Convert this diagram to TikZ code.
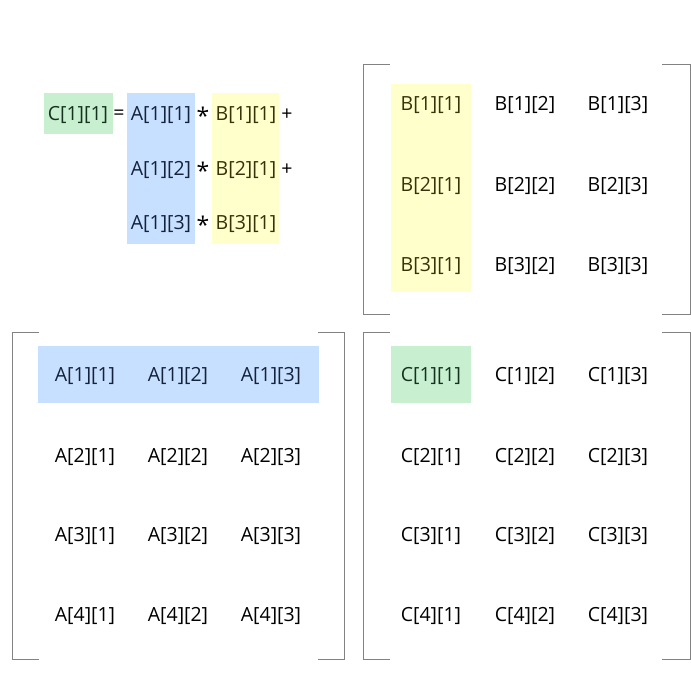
\documentclass[tikz,border=0pt]{standalone}
\usepackage{fontspec}
\setmainfont{Open Sans}
\definecolor{cellgreen}{RGB}{200,240,208}
\definecolor{cellblue}{RGB}{200,224,255}
\definecolor{cellyellow}{RGB}{255,255,204}
\definecolor{inkgreen}{RGB}{20,50,30}
\definecolor{inkblue}{RGB}{20,35,60}
\definecolor{inkyellow}{RGB}{55,50,10}
\definecolor{bracketgray}{RGB}{130,130,130}
\tikzset{
  entry/.style={inner sep=0pt, font=\fontsize{19.5}{22}\selectfont},
  times/.style={inner sep=0pt, font=\fontsize{23}{25}\selectfont},
  bracket/.style={draw=bracketgray, line width=1pt},
}

\begin{document}
\begin{tikzpicture}[x=1pt, y=1pt]
  \useasboundingbox (0,0) rectangle (691,-681);
  % highlight boxes
  \fill[cellgreen] (44,-93) rectangle (113,-134);
  \fill[cellblue] (127,-93) rectangle (195,-244);
  \fill[cellyellow] (212,-93) rectangle (279,-244);
  \fill[cellyellow] (391,-84) rectangle (471,-292);
  \fill[cellblue] (38,-346) rectangle (319,-403);
  \fill[cellgreen] (391,-346) rectangle (471,-403);
  % the sum for C[1][1]
  \node[entry, text=inkgreen] (sum-c) at (78,-115) {C[1][1]};
  \node[entry] (sum-eq) at (119,-115) {=};
  \foreach \k/\y in {1/115, 2/170, 3/224} {
    \node[entry, text=inkblue] (sum-a\k) at (161,-\y) {A[1][\k]};
    \node[times] (sum-t\k) at (203,-\y-1) {*};
    \node[entry, text=inkyellow] (sum-b\k) at (246,-\y) {B[\k][1]};
  }
  \node[entry] (sum-p1) at (287,-115) {+};
  \node[entry] (sum-p2) at (287,-170) {+};
  % matrix B
  \foreach \i/\y in {1/105, 2/186, 3/266}
    \foreach \j/\x in {1/431, 2/525, 3/618} {
      \ifnum\j=1 \def\ink{inkyellow}\else\def\ink{black}\fi
      \node[entry, text=\ink] (b-\i-\j) at (\x,-\y) {B[\i][\j]};
    }
  % matrix A
  \foreach \i/\y in {1/376, 2/457, 3/536, 4/616}
    \foreach \j/\x in {1/85, 2/178, 3/271} {
      \ifnum\i=1 \def\ink{inkblue}\else\def\ink{black}\fi
      \node[entry, text=\ink] (a-\i-\j) at (\x,-\y) {A[\i][\j]};
    }
  % matrix C
  \foreach \i/\y in {1/376, 2/457, 3/536, 4/616}
    \foreach \j/\x in {1/431, 2/525, 3/618} {
      \def\ink{black}
      \ifnum\i=1 \ifnum\j=1 \def\ink{inkgreen}\fi\fi
      \node[entry, text=\ink] (c-\i-\j) at (\x,-\y) {C[\i][\j]};
    }
  % brackets
  \draw[bracket] (390,-64) -| (363,-314) -- (390,-314);
  \draw[bracket] (662,-64) -| (690,-314) -- (662,-314);
  \draw[bracket] (39,-332) -| (12,-659) -- (39,-659);
  \draw[bracket] (318,-332) -| (344,-659) -- (318,-659);
  \draw[bracket] (390,-332) -| (363,-659) -- (390,-659);
  \draw[bracket] (662,-332) -| (690,-659) -- (662,-659);
\end{tikzpicture}
\end{document}
